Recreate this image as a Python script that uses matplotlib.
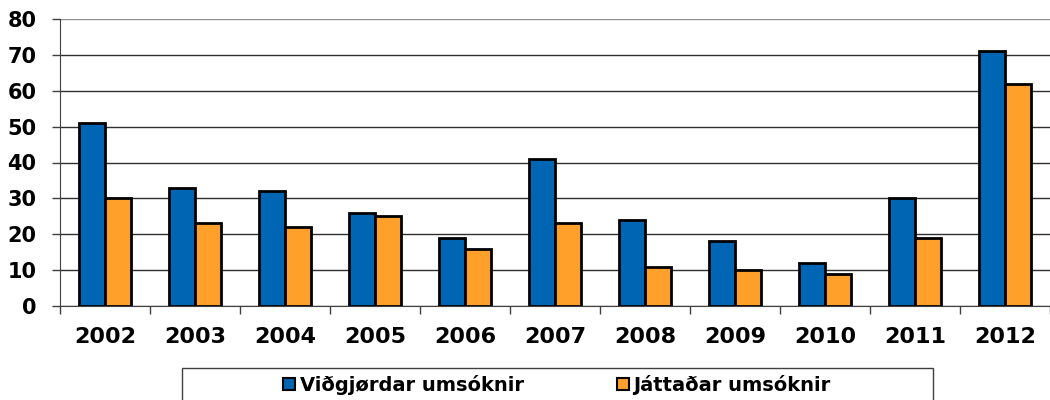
import matplotlib
matplotlib.use("Agg")
import matplotlib.pyplot as plt
from matplotlib.patches import Rectangle
import numpy as np

years = ["2002", "2003", "2004", "2005", "2006", "2007", "2008", "2009", "2010", "2011", "2012"]
handled = [51, 33, 32, 26, 19, 41, 24, 18, 12, 30, 71]
approved = [30, 23, 22, 25, 16, 23, 11, 10, 9, 19, 62]
series_labels = ["Viðgjørdar umsóknir", "Játtaðar umsóknir"]
y_ticks = [0, 10, 20, 30, 40, 50, 60, 70, 80]

BLUE = "#0066b3"
ORANGE = "#ffa02a"

plt.rcParams["font.family"] = ["DejaVu Sans"]
plt.rcParams["font.weight"] = "bold"

fig = plt.figure(figsize=(10.5, 4.0), dpi=100)
ax = fig.add_axes([60 / 1050, 94 / 400, 990 / 1050, 287 / 400])

x = np.arange(len(years))
width = 0.29
ax.bar(x - width / 2, handled, width, color=BLUE, edgecolor="black", linewidth=2.0,
       label=series_labels[0], zorder=3)
ax.bar(x + width / 2, approved, width, color=ORANGE, edgecolor="black", linewidth=2.0,
       label=series_labels[1], zorder=3)

ax.set_xlim(-0.5, len(years) - 0.5)
ax.set_ylim(0, 80)
ax.set_yticks(y_ticks)
ax.set_yticklabels([str(v) for v in y_ticks], fontsize=15, fontweight="bold")
ax.yaxis.grid(True, color="#303030", linewidth=1.0, zorder=0)
ax.get_ygridlines()[-1].set_color("#909090")

# category labels in the middle, tick marks on the boundaries
ax.set_xticks(x)
ax.set_xticklabels(years, fontsize=16, fontweight="bold")
ax.tick_params(axis="x", which="major", length=0, pad=15)
ax.set_xticks(np.arange(-0.5, len(years)), minor=True)
ax.tick_params(axis="x", which="minor", length=6, width=1, color="#404040", direction="out")
ax.tick_params(axis="y", length=6, width=1, color="#404040", pad=11)

for side in ("top", "right"):
    ax.spines[side].set_visible(False)
ax.spines["left"].set_color("#404040")
ax.spines["bottom"].set_color("#404040")

fig.patches.append(Rectangle((182 / 1050, -0.05), 751 / 1050, 0.05 + 32 / 400,
                             transform=fig.transFigure, fill=False,
                             edgecolor="#404040", linewidth=1.0))
leg = fig.legend(loc="center", bbox_to_anchor=(557 / 1050, 15 / 400), ncol=2,
                 frameon=False, handlelength=0.6, handleheight=0.6,
                 handletextpad=0.25, columnspacing=4.8,
                 prop={"weight": "bold", "size": 14})
for patch in leg.get_patches():
    patch.set_linewidth(1.5)

fig.savefig("out.png", dpi=100)
